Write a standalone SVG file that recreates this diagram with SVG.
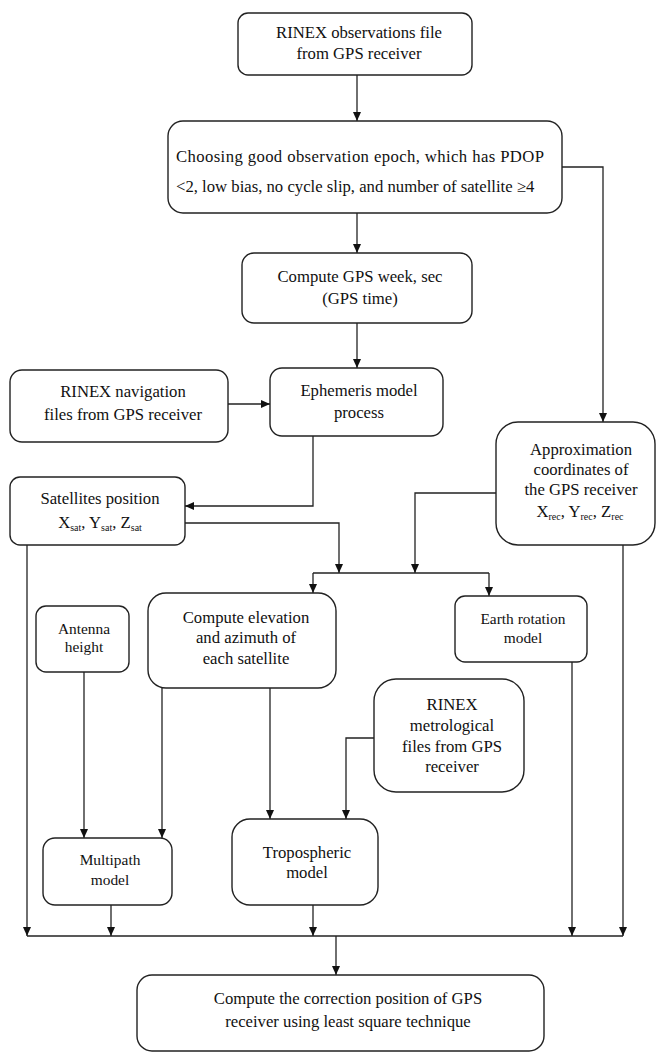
<svg xmlns="http://www.w3.org/2000/svg" width="657" height="1057" viewBox="0 0 657 1057" font-family="'Liberation Serif', Tinos, 'Times New Roman', Times, 'DejaVu Serif', serif">
<style>
.box{fill:#fff;stroke:#222;stroke-width:1.4}
.t{font-family:'Liberation Serif', Tinos, 'Times New Roman', Times, 'DejaVu Serif', serif;font-size:16.7px;fill:#111;text-anchor:middle}
.s{font-size:15.4px}
.sub{font-size:10px}
.ln{fill:none;stroke:#222;stroke-width:1.3}
.la{fill:none;stroke:#222;stroke-width:1.3;marker-end:url(#ah)}
</style>
<defs>
<marker id="ah" markerWidth="10" markerHeight="10" refX="9" refY="5" orient="auto" markerUnits="userSpaceOnUse">
<path d="M0,1 L9,5 L0,9 z" fill="#111"/>
</marker>
</defs>
<rect width="657" height="1057" fill="#fff"/>
<g id="connectors">
<path class="la" d="M357,75 V121"/>
<path class="la" d="M357,213 V253"/>
<path class="la" d="M562,167 H603 V422"/>
<path class="la" d="M357,323 V368"/>
<path class="la" d="M228,404 H270"/>
<path class="la" d="M313,436 V506 H185"/>
<path class="la" d="M185,523 H339 V573"/>
<path class="la" d="M496,493 H415 V573"/>
<path class="ln" d="M313,573 H489"/>
<path class="la" d="M313,573 V593"/>
<path class="la" d="M489,573 V596"/>
<path class="la" d="M84,672 V838"/>
<path class="la" d="M162,688 V838"/>
<path class="la" d="M270,688 V819"/>
<path class="la" d="M374,738 H346 V819"/>
<path class="la" d="M27,545 V936"/>
<path class="la" d="M111,905 V936"/>
<path class="la" d="M313,905 V936"/>
<path class="la" d="M572,662 V936"/>
<path class="la" d="M623,545 V936"/>
<path class="ln" d="M27,936 H623"/>
<path class="la" d="M336,936 V975"/>
</g>
<g id="obs">
<rect class="box" x="238" y="13" width="234" height="62" rx="10"/>
<text class="t" x="359" y="38">RINEX observations file</text>
<text class="t" x="359" y="59">from GPS receiver</text>
</g>
<g id="choose">
<rect class="box" x="168" y="121" width="394" height="92" rx="15"/>
<text class="t" x="176" y="162" style="text-anchor:start" textLength="368" lengthAdjust="spacing">Choosing good observation epoch, which has PDOP</text>
<text class="t" x="176" y="192" style="text-anchor:start">&lt;2, low bias, no cycle slip, and number of satellite ≥4</text>
</g>
<g id="gpstime">
<rect class="box" x="242" y="253" width="230" height="70" rx="12"/>
<text class="t" x="360" y="282">Compute GPS week, sec</text>
<text class="t" x="360" y="304">(GPS time)</text>
</g>
<g id="ephem">
<rect class="box" x="270" y="368" width="173" height="68" rx="12"/>
<text class="t" x="359" y="396">Ephemeris model</text>
<text class="t" x="359" y="418">process</text>
</g>
<g id="nav">
<rect class="box" x="10" y="370" width="218" height="72" rx="12"/>
<text class="t" x="123" y="397">RINEX navigation</text>
<text class="t" x="123" y="420">files from GPS receiver</text>
</g>
<g id="satpos">
<rect class="box" x="10" y="477" width="175" height="68" rx="10"/>
<text class="t" x="100" y="504">Satellites position</text>
<text class="t" x="100" y="528">X<tspan class="sub" dy="3">sat</tspan><tspan dy="-3">, Y</tspan><tspan class="sub" dy="3">sat</tspan><tspan dy="-3">, Z</tspan><tspan class="sub" dy="3">sat</tspan></text>
</g>
<g id="approx">
<rect class="box" x="496" y="422" width="159" height="123" rx="22"/>
<text class="t" x="581" y="455">Approximation</text>
<text class="t" x="581" y="475">coordinates of</text>
<text class="t" x="581" y="495">the GPS receiver</text>
<text class="t" x="580" y="517">X<tspan class="sub" dy="3">rec</tspan><tspan dy="-3">,  Y</tspan><tspan class="sub" dy="3">rec</tspan><tspan dy="-3">,  Z</tspan><tspan class="sub" dy="3">rec</tspan></text>
</g>
<g id="elev">
<rect class="box" x="148" y="593" width="188" height="95" rx="18"/>
<text class="t" x="246" y="623">Compute elevation</text>
<text class="t" x="246" y="643">and azimuth of</text>
<text class="t" x="246" y="664">each satellite</text>
</g>
<g id="earth">
<rect class="box" x="455" y="596" width="132" height="66" rx="10"/>
<text class="t s" x="523" y="624">Earth rotation</text>
<text class="t s" x="523" y="643">model</text>
</g>
<g id="antenna">
<rect class="box" x="36" y="606" width="93" height="66" rx="10"/>
<text class="t s" x="84" y="634">Antenna</text>
<text class="t s" x="84" y="652">height</text>
</g>
<g id="metro">
<rect class="box" x="374" y="679" width="150" height="113" rx="22"/>
<text class="t" x="452" y="710">RINEX</text>
<text class="t" x="452" y="731">metrological</text>
<text class="t" x="452" y="752">files from GPS</text>
<text class="t" x="452" y="772">receiver</text>
</g>
<g id="multipath">
<rect class="box" x="43" y="838" width="129" height="67" rx="12"/>
<text class="t s" x="110" y="865">Multipath</text>
<text class="t s" x="110" y="885">model</text>
</g>
<g id="tropo">
<rect class="box" x="232" y="819" width="146" height="86" rx="18"/>
<text class="t" x="307" y="858">Tropospheric</text>
<text class="t" x="307" y="878">model</text>
</g>
<g id="final">
<rect class="box" x="137" y="975" width="407" height="76" rx="15"/>
<text class="t" x="348" y="1004">Compute the correction position of GPS</text>
<text class="t" x="348" y="1027">receiver using least square technique</text>
</g>
</svg>
